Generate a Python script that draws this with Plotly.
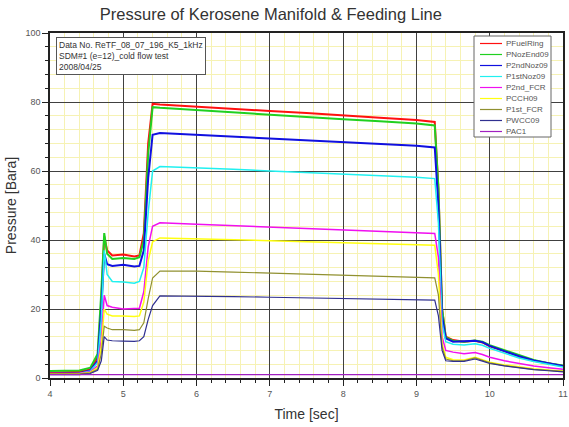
import plotly.graph_objects as go

# ---------------- data ----------------
time_s = [4.0, 4.4, 4.55, 4.65, 4.7, 4.74, 4.78, 4.85, 5.0, 5.15, 5.22, 5.28, 5.34, 5.4, 5.5,
          6.0, 6.5, 7.0, 7.5, 8.0, 8.5, 9.0, 9.25, 9.3, 9.35, 9.4, 9.5, 9.65, 9.8, 9.9,
          10.0, 10.2, 10.4, 10.6, 10.8, 11.0]

series_names = ["PFuelRing", "PNozEnd09", "P2ndNoz09", "P1stNoz09", "P2nd_FCR",
                "PCCH09", "P1st_FCR", "PWCC09", "PAC1"]

p_fuelring = [1.5, 1.8, 2.5, 6, 22, 41, 37, 35.5, 35.8, 35.2, 35.5, 42, 68, 79.5, 79.3,
              78.6, 78.0, 77.4, 76.8, 76.0, 75.4, 74.8, 74.2, 55, 20, 12, 11, 10.5, 10.8, 10.3,
              9.2, 7.8, 6.2, 5.0, 4.2, 3.5]
p_nozend09 = [2.0, 2.2, 3.0, 7, 25, 42, 36, 34.5, 34.8, 34.5, 35, 40, 65, 78.5, 78.3,
              77.6, 77.0, 76.3, 75.6, 75.0, 74.4, 73.8, 73.2, 55, 20, 11.8, 10.8, 10.5, 10.9, 10.5,
              9.5, 8.0, 6.5, 5.2, 4.3, 3.6]
p_2ndnoz09 = [1.2, 1.4, 2.2, 5, 20, 36, 33, 32.5, 32.8, 32.3, 32.5, 37, 58, 70.5, 71.0,
              70.5, 70.0, 69.4, 68.9, 68.3, 67.8, 67.3, 66.8, 50, 18, 11.5, 10.5, 10.6, 10.8, 10.4,
              9.3, 7.8, 6.3, 5.1, 4.2, 3.5]
p_1stnoz09 = [1.2, 1.3, 2.0, 4.5, 17, 37, 30, 28, 27.8, 27.5, 28, 32, 48, 60, 61.3,
              61.0, 60.5, 60.0, 59.6, 59.1, 58.6, 58.2, 57.8, 45, 16, 10.5, 9.8, 9.6, 9.9, 9.5,
              8.6, 7.2, 5.8, 4.8, 3.9, 3.2]
p_2nd_fcr = [1.3, 1.3, 1.8, 3.5, 11, 24, 21, 20.5, 20, 20, 20.2, 25, 38, 44, 45,
             44.6, 44.2, 43.8, 43.4, 43.0, 42.6, 42.2, 41.9, 35, 12, 8, 7.5, 7.0, 7.4, 6.8,
             6.0, 5.0, 4.2, 3.5, 3.0, 2.5]
p_cch09 = [1.2, 1.2, 1.6, 3, 9, 20, 18.5, 18, 18, 17.8, 18, 22, 34, 39.5, 40.6,
           40.4, 40.1, 39.8, 39.5, 39.2, 38.9, 38.7, 38.5, 30, 10, 6, 5.3, 5.2, 6.0, 5.3,
           4.6, 3.8, 3.2, 2.7, 2.3, 2.0]
p_1st_fcr = [1.2, 1.2, 1.5, 2.5, 7, 15, 14.5, 14, 14, 13.8, 14, 16, 23, 29, 31,
             31.0, 30.7, 30.4, 30.1, 29.8, 29.5, 29.2, 29.0, 24, 9, 5.5, 5.0, 5.0, 5.8, 5.1,
             4.4, 3.6, 3.0, 2.5, 2.2, 1.9]
p_wcc09 = [1.0, 1.0, 1.3, 2.2, 5, 12, 11, 10.8, 10.7, 10.6, 10.8, 12, 17, 21, 23.8,
           23.8, 23.6, 23.4, 23.2, 23.0, 22.9, 22.7, 22.6, 18, 8, 5, 4.8, 4.8, 5.5, 4.9,
           4.2, 3.5, 2.9, 2.4, 2.1, 1.8]
p_ac1 = [1.0] * len(time_s)

series_values = [p_fuelring, p_nozend09, p_2ndnoz09, p_1stnoz09, p_2nd_fcr,
                 p_cch09, p_1st_fcr, p_wcc09, p_ac1]

info_lines = ["Data No. ReTF_08_07_196_K5_1kHz", "SDM#1 (e=12)_cold flow test", "2008/04/25"]

x_ticks = [4, 5, 6, 7, 8, 9, 10, 11]
y_ticks = [0, 20, 40, 60, 80, 100]

# ---------------- style ----------------
colors = ["#ff1010", "#20d020", "#1010e0", "#20f0f0", "#f010f0",
          "#ffff10", "#909030", "#303090", "#a020c0"]
widths = [2.0, 2.0, 2.0, 1.5, 1.5, 1.5, 1.2, 1.2, 1.2]

W, H = 569, 427
ML, MR, MT, MB = 50, 6, 33, 49
PW, PH = W - ML - MR, H - MT - MB


def px_x(px):
    return (px - ML) / PW


def px_y(py):
    return 1 - (py - MT) / PH


fig = go.Figure()
for name, vals, c, w in zip(series_names, series_values, colors, widths):
    fig.add_trace(go.Scatter(x=time_s, y=vals, mode="lines", name=name,
                             line=dict(color=c, width=w), showlegend=False))

axis_common = dict(
    showline=True, mirror=True, linecolor="#222", linewidth=1.5,
    showgrid=True, gridcolor="#404040", gridwidth=1,
    zeroline=False, ticks="outside", ticklen=6, tickcolor="#222",
    tickfont=dict(family="Liberation Sans, Arial", size=9, color="#555"),
)

fig.update_xaxes(range=[4, 11], tickvals=x_ticks, **axis_common,
                 minor=dict(dtick=0.2, showgrid=True, gridcolor="#f6f2b4",
                            ticks="outside", ticklen=3, tickcolor="#222"),
                 title=dict(text="Time [sec]", standoff=12,
                            font=dict(family="Liberation Sans, Arial", size=14, color="#333")))
fig.update_yaxes(range=[0, 100], tickvals=y_ticks, **axis_common,
                 minor=dict(dtick=4, showgrid=True, gridcolor="#f6f2b4",
                            ticks="outside", ticklen=3, tickcolor="#222"),
                 title=dict(text="Pressure [Bara]", standoff=6,
                            font=dict(family="Liberation Sans, Arial", size=14, color="#333")))

annotations = [dict(
    xref="paper", yref="paper", x=px_x(56), y=px_y(37), xanchor="left", yanchor="top",
    text="<br>".join(info_lines), align="left", showarrow=False,
    font=dict(family="Liberation Sans, Arial", size=8.5, color="#333"),
    bgcolor="white", bordercolor="#555", borderwidth=1, borderpad=2,
)]

shapes = [dict(type="rect", xref="paper", yref="paper",
               x0=px_x(474), x1=px_x(551), y0=px_y(137), y1=px_y(36),
               line=dict(color="#666", width=1), fillcolor="white", layer="above")]

for i, (name, c) in enumerate(zip(series_names, colors)):
    yy = px_y(43.5 + 11 * i)
    shapes.append(dict(type="line", xref="paper", yref="paper",
                       x0=px_x(480), x1=px_x(502), y0=yy, y1=yy,
                       line=dict(color=c, width=1.2), layer="above"))
    annotations.append(dict(xref="paper", yref="paper", x=px_x(504), y=yy,
                            xanchor="left", yanchor="middle", text=name, showarrow=False,
                            font=dict(family="Liberation Sans, Arial", size=8, color="#555")))

fig.update_layout(
    width=W, height=H,
    margin=dict(l=ML, r=MR, t=MT, b=MB, autoexpand=False),
    paper_bgcolor="white", plot_bgcolor="white",
    title=dict(text="Pressure of Kerosene Manifold & Feeding Line",
               xref="container", x=0.476, xanchor="center", y=0.967, yanchor="middle",
               font=dict(family="Liberation Sans, Arial", size=16.5, color="#333")),
    annotations=annotations, shapes=shapes,
)

fig.write_html("out.html")
